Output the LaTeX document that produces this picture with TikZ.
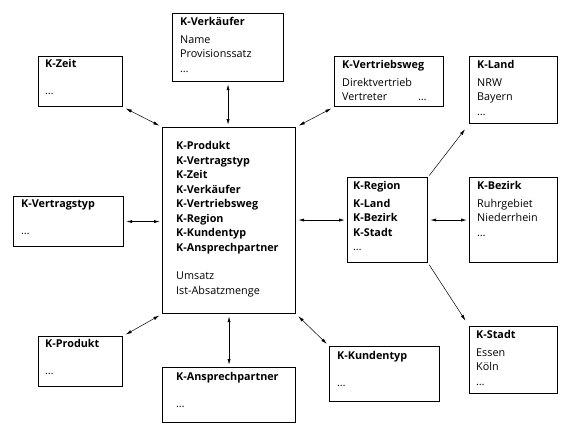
\documentclass[tikz,border=0pt]{standalone}
\usepackage{fontspec}
\setmainfont{Open Sans}
\usetikzlibrary{arrows.meta}
\begin{document}
\begin{tikzpicture}[x=1pt,y=-1pt,
  box/.style={draw, line width=1.1pt, inner sep=0pt, anchor=north west},
  txt/.style={anchor=north west, inner sep=0pt, align=left, font=\fontsize{10.8pt}{14.5pt}\selectfont},
  tip/.tip={Latex[length=6pt,width=3.2pt]},
  link/.style={tip-tip, line width=0.8pt, shorten >=2pt, shorten <=2pt},
  dlink/.style={tip-tip, line width=0.5pt, shorten >=3pt, shorten <=3pt},
  one/.style={-tip, line width=0.5pt, shorten >=6.5pt, shorten <=2pt}]
\useasboundingbox[fill=white] (0,0) rectangle (562,428);

% boxes
\node[box, minimum width=111pt, minimum height=68pt] (verk) at (172,13) {};
\node[box, minimum width=84pt,  minimum height=50pt] (zeit) at (38,56) {};
\node[box, minimum width=133pt, minimum height=186pt] (central) at (162,127) {};
\node[box, minimum width=110pt, minimum height=50pt] (vtyp) at (13,196) {};
\node[box, minimum width=109pt, minimum height=50pt] (vweg) at (334,56) {};
\node[box, minimum width=88pt,  minimum height=67pt] (land) at (469,56) {};
\node[box, minimum width=80pt,  minimum height=85pt] (region) at (347,177) {};
\node[box, minimum width=88pt,  minimum height=85pt] (bezirk) at (469,177) {};
\node[box, minimum width=88pt,  minimum height=67pt] (stadt) at (469,326) {};
\node[box, minimum width=110pt, minimum height=55pt] (kunden) at (329,346) {};
\node[box, minimum width=84pt,  minimum height=50pt] (prod) at (38,336) {};
\node[box, minimum width=133pt, minimum height=55pt] (ansp) at (162,367) {};

% texts
\node[txt, xshift=8pt, yshift=-4.5pt] (verk-t) at (verk.north west)
  {\textbf{K-Verkäufer}\\[3pt] Name\\ Provisionssatz\\ \dots};
\node[txt, xshift=7pt, yshift=-3.5pt] (zeit-t) at (zeit.north west)
  {\textbf{K-Zeit}\\[12.5pt] \dots};
\node[txt, xshift=14pt, yshift=-14.5pt] (central-t) at (central.north west)
  {\textbf{K-Produkt}\\ \textbf{K-Vertragstyp}\\ \textbf{K-Zeit}\\ \textbf{K-Verkäufer}\\
   \textbf{K-Vertriebsweg}\\ \textbf{K-Region}\\ \textbf{K-Kundentyp}\\ \textbf{K-Ansprechpartner}\\[14pt]
   Umsatz\\ Ist-Absatzmenge};
\node[txt, xshift=8pt, yshift=-3.5pt] (vtyp-t) at (vtyp.north west)
  {\textbf{K-Vertragstyp}\\[12.5pt] \dots};
\node[txt, xshift=8pt, yshift=-4.5pt] (vweg-t) at (vweg.north west)
  {\textbf{K-Vertriebsweg}\\[3pt] Direktvertrieb\\ \makebox[76pt][l]{Vertreter}\dots};
\node[txt, xshift=8pt, yshift=-4.5pt] (land-t) at (land.north west)
  {\textbf{K-Land}\\[3pt] NRW\\ Bayern\\ \dots};
\node[txt, xshift=6pt, yshift=-4.5pt] (region-t) at (region.north west)
  {\textbf{K-Region}\\[3pt] \textbf{K-Land}\\ \textbf{K-Bezirk}\\ \textbf{K-Stadt}\\ \dots};
\node[txt, xshift=8pt, yshift=-4.5pt] (bezirk-t) at (bezirk.north west)
  {\textbf{K-Bezirk}\\[3pt] Ruhrgebiet\\ Niederrhein\\ \dots};
\node[txt, xshift=7pt, yshift=-4.5pt] (stadt-t) at (stadt.north west)
  {\textbf{K-Stadt}\\[3pt] Essen\\ Köln\\ \dots};
\node[txt, xshift=8pt, yshift=-5.5pt] (kunden-t) at (kunden.north west)
  {\textbf{K-Kundentyp}\\[12.5pt] \dots};
\node[txt, xshift=7pt, yshift=-3.5pt] (prod-t) at (prod.north west)
  {\textbf{K-Produkt}\\[12.5pt] \dots};
\node[txt, xshift=14pt, yshift=-5.5pt] (ansp-t) at (ansp.north west)
  {\textbf{K-Ansprechpartner}\\[12.5pt] \dots};

% connectors
\draw[link] (verk.south) -- (verk.south |- central.north);
\draw[link] (ansp.north) -- (ansp.north |- central.south);
\draw[link] (vtyp.east) -- (vtyp.east -| central.west);
\draw[link] (region.west) -- (region.west -| central.east);
\draw[link] (region.east) -- (region.east -| bezirk.west);
\draw[dlink] (zeit.south east) -- (central.north west);
\draw[dlink] (vweg.south west) -- (central.north east);
\draw[dlink] (prod.north east) -- (central.south west);
\draw[dlink] (kunden.north west) -- (central.south east);
\draw[one] (region.north east) -- (land.south west);
\draw[one] (region.south east) -- (stadt.north west);
\end{tikzpicture}
\end{document}
